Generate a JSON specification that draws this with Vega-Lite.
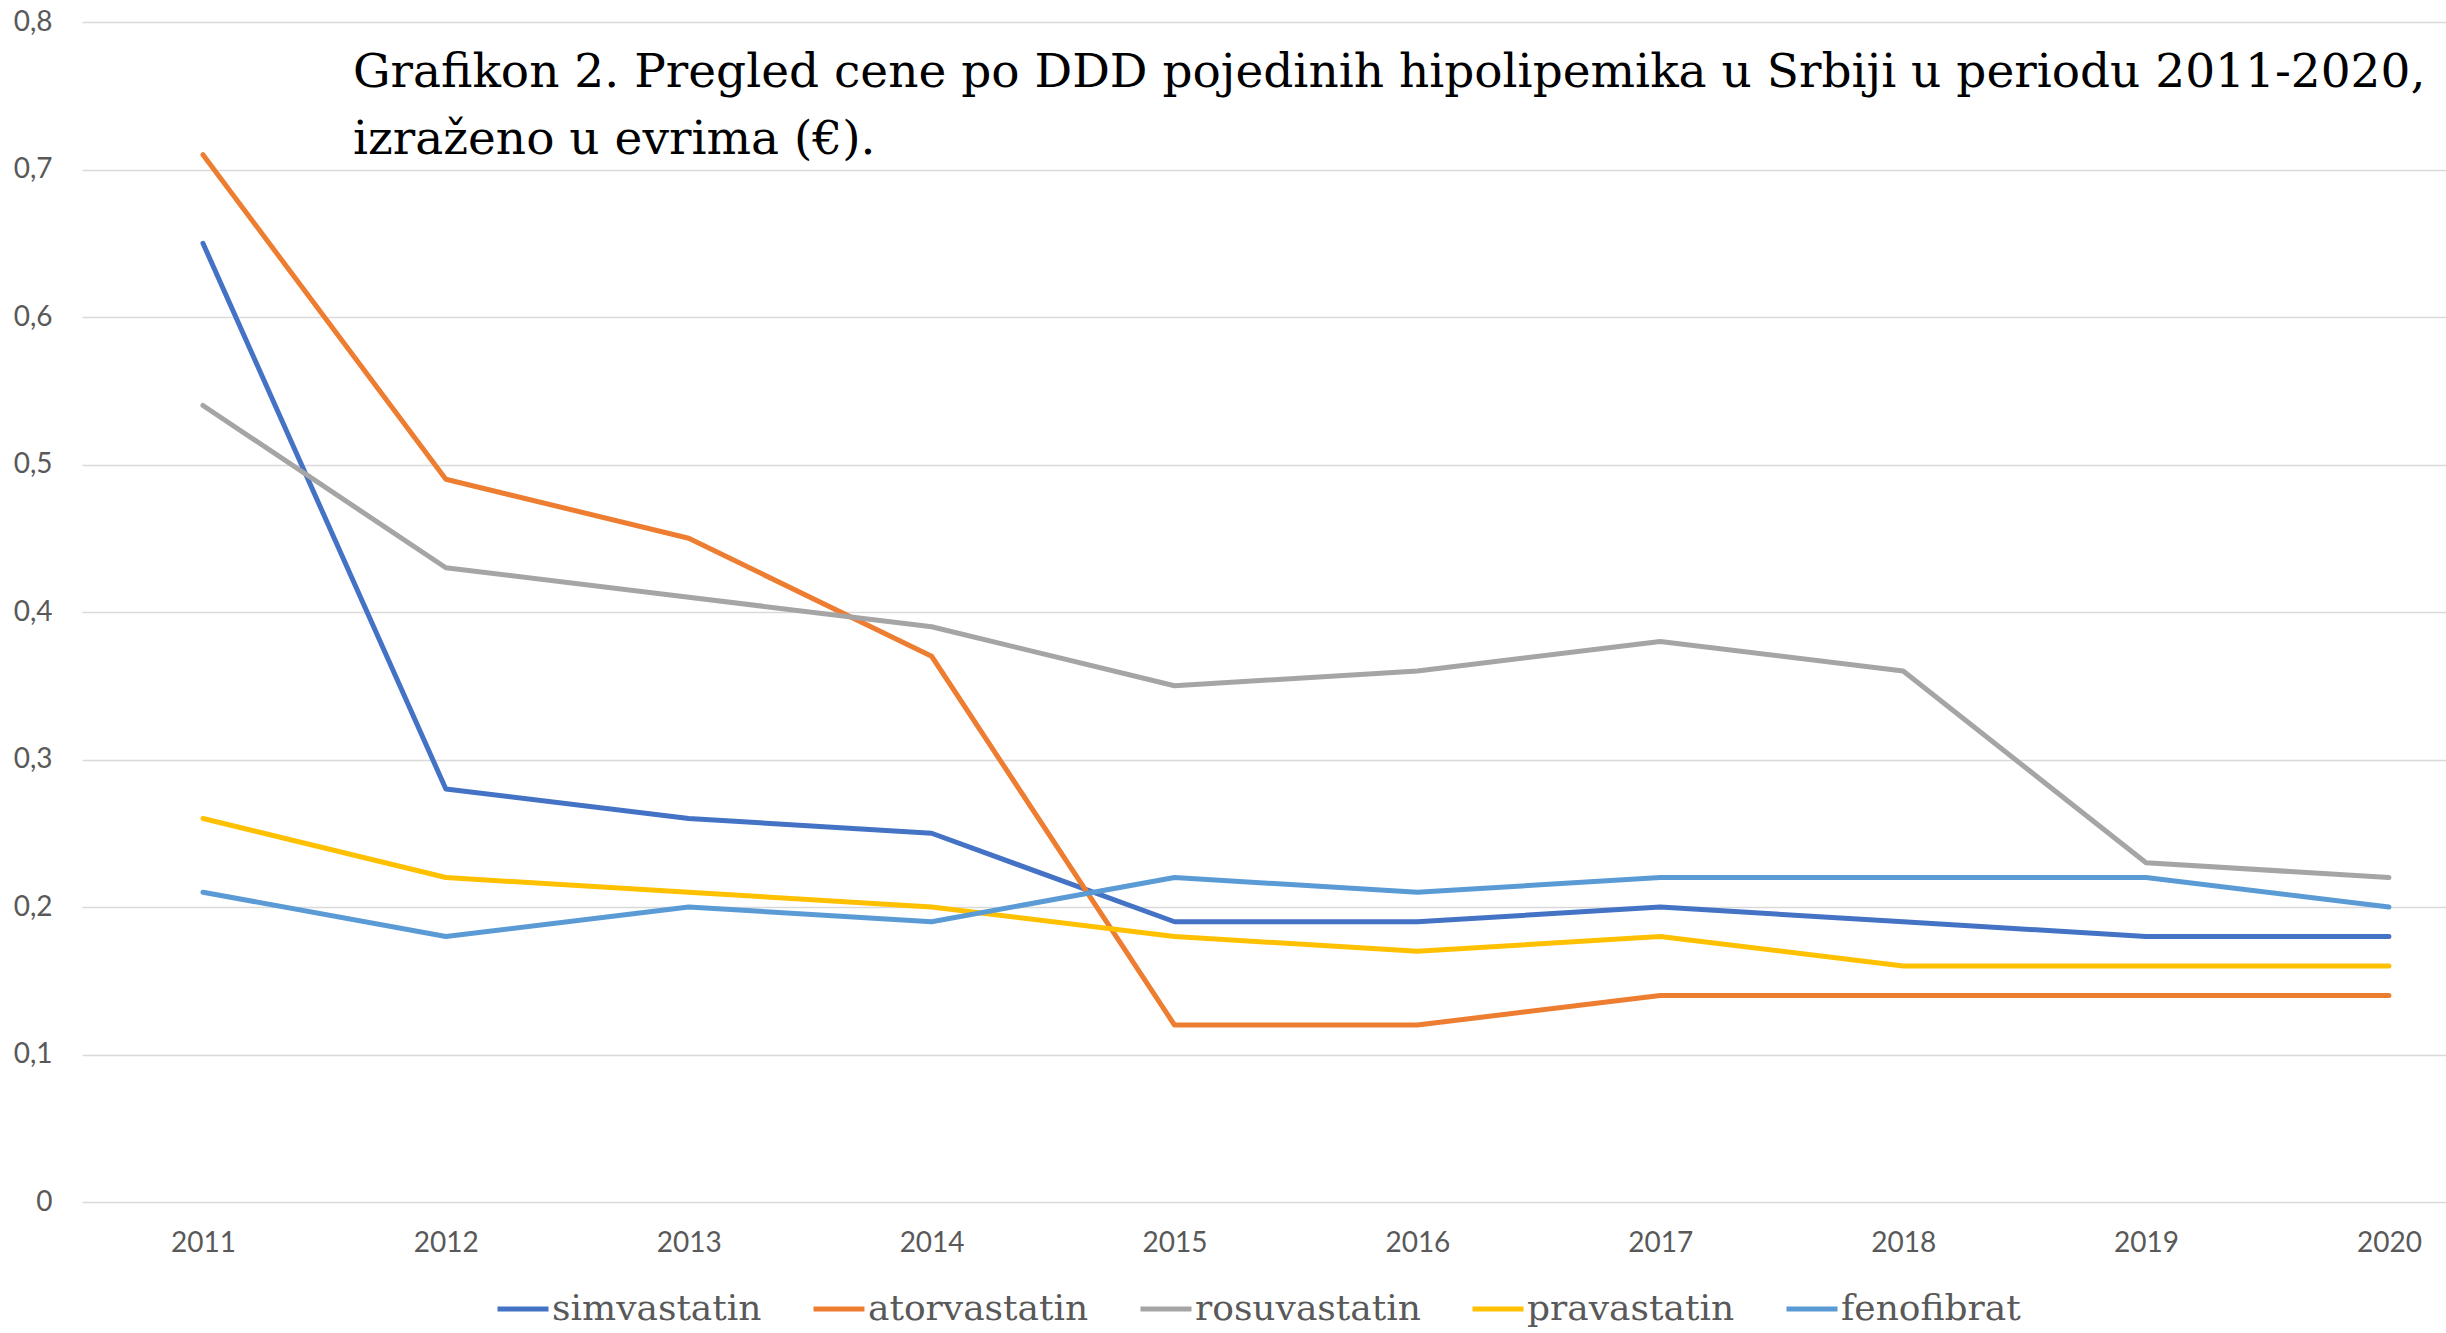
{
  "$schema": "https://vega.github.io/schema/vega-lite/v6.json",
  "width": 2364,
  "height": 1180,
  "autosize": {"type": "none"},
  "padding": {"left": 82, "top": 22, "right": 0, "bottom": 131},
  "background": "white",
  "title": {
    "text": ["Grafikon 2. Pregled cene po DDD pojedinih hipolipemika u Srbiji u periodu 2011-2020,", "izraženo u evrima (€)."],
    "anchor": "start",
    "frame": "group",
    "orient": "top",
    "baseline": "top",
    "offset": 0,
    "dx": 271,
    "dy": 156,
    "font": "DejaVu Serif",
    "fontSize": 47,
    "fontWeight": "normal",
    "color": "#000000",
    "lineHeight": 67
  },
  "config": {"view": {"stroke": null}},
  "data": {
    "values": [
      {"year": 2011, "drug": "simvastatin", "value": 0.65},
      {"year": 2012, "drug": "simvastatin", "value": 0.28},
      {"year": 2013, "drug": "simvastatin", "value": 0.26},
      {"year": 2014, "drug": "simvastatin", "value": 0.25},
      {"year": 2015, "drug": "simvastatin", "value": 0.19},
      {"year": 2016, "drug": "simvastatin", "value": 0.19},
      {"year": 2017, "drug": "simvastatin", "value": 0.2},
      {"year": 2018, "drug": "simvastatin", "value": 0.19},
      {"year": 2019, "drug": "simvastatin", "value": 0.18},
      {"year": 2020, "drug": "simvastatin", "value": 0.18},
      {"year": 2011, "drug": "atorvastatin", "value": 0.71},
      {"year": 2012, "drug": "atorvastatin", "value": 0.49},
      {"year": 2013, "drug": "atorvastatin", "value": 0.45},
      {"year": 2014, "drug": "atorvastatin", "value": 0.37},
      {"year": 2015, "drug": "atorvastatin", "value": 0.12},
      {"year": 2016, "drug": "atorvastatin", "value": 0.12},
      {"year": 2017, "drug": "atorvastatin", "value": 0.14},
      {"year": 2018, "drug": "atorvastatin", "value": 0.14},
      {"year": 2019, "drug": "atorvastatin", "value": 0.14},
      {"year": 2020, "drug": "atorvastatin", "value": 0.14},
      {"year": 2011, "drug": "rosuvastatin", "value": 0.54},
      {"year": 2012, "drug": "rosuvastatin", "value": 0.43},
      {"year": 2013, "drug": "rosuvastatin", "value": 0.41},
      {"year": 2014, "drug": "rosuvastatin", "value": 0.39},
      {"year": 2015, "drug": "rosuvastatin", "value": 0.35},
      {"year": 2016, "drug": "rosuvastatin", "value": 0.36},
      {"year": 2017, "drug": "rosuvastatin", "value": 0.38},
      {"year": 2018, "drug": "rosuvastatin", "value": 0.36},
      {"year": 2019, "drug": "rosuvastatin", "value": 0.23},
      {"year": 2020, "drug": "rosuvastatin", "value": 0.22},
      {"year": 2011, "drug": "pravastatin", "value": 0.26},
      {"year": 2012, "drug": "pravastatin", "value": 0.22},
      {"year": 2013, "drug": "pravastatin", "value": 0.21},
      {"year": 2014, "drug": "pravastatin", "value": 0.2},
      {"year": 2015, "drug": "pravastatin", "value": 0.18},
      {"year": 2016, "drug": "pravastatin", "value": 0.17},
      {"year": 2017, "drug": "pravastatin", "value": 0.18},
      {"year": 2018, "drug": "pravastatin", "value": 0.16},
      {"year": 2019, "drug": "pravastatin", "value": 0.16},
      {"year": 2020, "drug": "pravastatin", "value": 0.16},
      {"year": 2011, "drug": "fenofibrat", "value": 0.21},
      {"year": 2012, "drug": "fenofibrat", "value": 0.18},
      {"year": 2013, "drug": "fenofibrat", "value": 0.2},
      {"year": 2014, "drug": "fenofibrat", "value": 0.19},
      {"year": 2015, "drug": "fenofibrat", "value": 0.22},
      {"year": 2016, "drug": "fenofibrat", "value": 0.21},
      {"year": 2017, "drug": "fenofibrat", "value": 0.22},
      {"year": 2018, "drug": "fenofibrat", "value": 0.22},
      {"year": 2019, "drug": "fenofibrat", "value": 0.22},
      {"year": 2020, "drug": "fenofibrat", "value": 0.2}
    ]
  },
  "mark": {"type": "line", "strokeWidth": 5, "strokeCap": "round", "strokeJoin": "round"},
  "encoding": {
    "x": {
      "field": "year",
      "type": "quantitative",
      "scale": {"domain": [2010.502, 2020.235], "nice": false, "zero": false},
      "axis": {
        "values": [2011, 2012, 2013, 2014, 2015, 2016, 2017, 2018, 2019, 2020],
        "format": "d",
        "grid": false,
        "ticks": false,
        "domain": false,
        "title": null,
        "labelFont": "Lato",
        "labelFontSize": 28,
        "labelColor": "#595959",
        "labelPadding": 27,
        "labelFlush": false
      }
    },
    "y": {
      "field": "value",
      "type": "quantitative",
      "scale": {"domain": [0, 0.8], "nice": false},
      "axis": {
        "values": [0, 0.1, 0.2, 0.3, 0.4, 0.5, 0.6, 0.7, 0.8],
        "labelExpr": "datum.value == 0 ? '0' : replace(format(datum.value, '.1f'), '.', ',')",
        "grid": true,
        "gridColor": "#D9D9D9",
        "gridWidth": 1.3,
        "ticks": false,
        "domain": false,
        "title": null,
        "labelFont": "Lato",
        "labelFontSize": 28,
        "labelColor": "#595959",
        "labelPadding": 30
      }
    },
    "color": {
      "field": "drug",
      "type": "nominal",
      "scale": {
        "domain": ["simvastatin", "atorvastatin", "rosuvastatin", "pravastatin", "fenofibrat"],
        "range": ["#4472C4", "#ED7D31", "#A5A5A5", "#FFC000", "#5B9BD5"]
      },
      "legend": {
        "orient": "none",
        "legendX": 413,
        "legendY": 1259,
        "direction": "horizontal",
        "title": null,
        "symbolType": "stroke",
        "symbolSize": 2600,
        "symbolStrokeWidth": 5,
        "labelFont": "DejaVu Serif",
        "labelFontSize": 36,
        "labelColor": "#595959",
        "labelOffset": 1,
        "labelLimit": 0,
        "columnPadding": 41
      }
    }
  }
}
